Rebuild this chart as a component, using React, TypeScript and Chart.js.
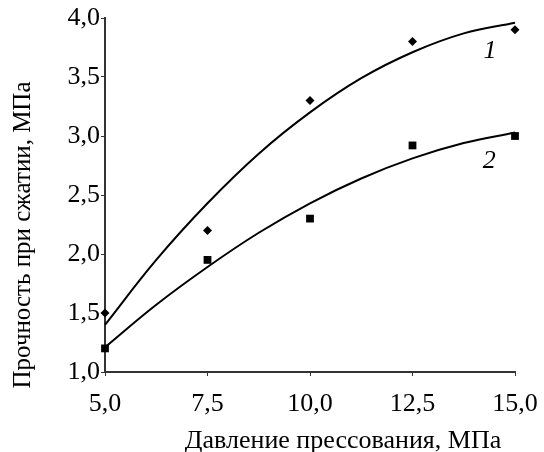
import React, { useEffect, useRef } from "react";
import { Chart, registerables } from "chart.js";

Chart.register(...registerables);

// Data
const pressure = [5, 7.5, 10, 12.5, 15];
const strength1 = [1.5, 2.2, 3.3, 3.8, 3.9];
const strength2 = [1.2, 1.95, 2.3, 2.92, 3.0];
// trend curves
const trendX = [5, 6.25, 7.5, 8.75, 10, 11.25, 12.5, 13.75, 15];
const trend1 = [1.4, 1.95, 2.43, 2.85, 3.2, 3.49, 3.71, 3.87, 3.96];
const trend2 = [1.21, 1.57, 1.89, 2.18, 2.43, 2.64, 2.81, 2.94, 3.03];

const xTitle = "Давление прессования, МПа";
const yTitle = "Прочность при сжатии, МПа";
const curveLabels = ["1", "2"];
const labelPos = [
  [14.39, 3.72],
  [14.37, 2.79],
];

const FONT = "'Liberation Serif', 'Times New Roman', serif";
const AXIS = "#333";

const fmt = (v: number) => v.toFixed(1).replace(".", ",");

const textPlugin = {
  id: "customText",
  afterDraw(chart: any) {
    const ctx = chart.ctx;
    const xs = chart.scales.x;
    const ys = chart.scales.y;
    ctx.save();
    ctx.fillStyle = "#000";
    ctx.textAlign = "center";
    ctx.textBaseline = "middle";
    ctx.font = `italic 26px ${FONT}`;
    curveLabels.forEach((t, i) => {
      ctx.fillText(t, xs.getPixelForValue(labelPos[i][0]), ys.getPixelForValue(labelPos[i][1]));
    });
    ctx.font = `26px ${FONT}`;
    ctx.fillText(xTitle, 343, 441);
    ctx.translate(23, 235);
    ctx.rotate(-Math.PI / 2);
    ctx.font = `25px ${FONT}`;
    ctx.fillText(yTitle, 0, 0);
    ctx.restore();
  },
};

export default function App() {
  const ref = useRef<HTMLCanvasElement>(null);
  useEffect(() => {
    if (!ref.current) return;
    const pts = (xs: number[], ys: number[]) => xs.map((x, i) => ({ x, y: ys[i] }));
    const chart = new Chart(ref.current, {
      type: "scatter",
      data: {
        datasets: [
          {
            label: "1",
            data: pts(trendX, trend1),
            showLine: true,
            borderColor: "#000",
            borderWidth: 2,
            pointRadius: 0,
            tension: 0.4,
            clip: false,
          },
          {
            label: "2",
            data: pts(trendX, trend2),
            showLine: true,
            borderColor: "#000",
            borderWidth: 2,
            pointRadius: 0,
            tension: 0.4,
            clip: false,
          },
          {
            label: "1 points",
            data: pts(pressure, strength1),
            pointStyle: "rectRot",
            pointRadius: 4.5,
            backgroundColor: "#000",
            borderColor: "#000",
            borderWidth: 0,
            clip: false,
          },
          {
            label: "2 points",
            data: pts(pressure, strength2),
            pointStyle: "rect",
            pointRadius: 5.5,
            backgroundColor: "#000",
            borderColor: "#000",
            borderWidth: 0,
            clip: false,
          },
        ],
      },
      options: {
        animation: false,
        responsive: true,
        maintainAspectRatio: false,
        layout: { padding: { left: 0, right: 29, top: 18, bottom: 0 } },
        plugins: {
          legend: { display: false },
          tooltip: { enabled: false },
        },
        scales: {
          x: {
            type: "linear",
            min: 5,
            max: 15,
            afterFit: (s: any) => {
              s.height = 80;
              s.paddingLeft = 0;
              s.paddingRight = 0;
            },
            ticks: {
              stepSize: 2.5,
              callback: (v: any) => fmt(Number(v)),
              font: { family: FONT, size: 26 },
              color: "#000",
              padding: 13,
              maxRotation: 0,
            },
            grid: {
              display: true,
              drawOnChartArea: false,
              drawTicks: true,
              tickLength: 4,
              color: AXIS,
            },
            border: { display: true, color: AXIS, width: 2 },
          },
          y: {
            type: "linear",
            min: 1,
            max: 4,
            afterFit: (s: any) => {
              s.width = 105;
              s.paddingTop = 0;
              s.paddingBottom = 0;
            },
            ticks: {
              stepSize: 0.5,
              callback: (v: any) => fmt(Number(v)),
              font: { family: FONT, size: 26 },
              color: "#000",
              padding: 1,
            },
            grid: {
              display: true,
              drawOnChartArea: false,
              drawTicks: true,
              tickLength: 4,
              color: AXIS,
            },
            border: { display: true, color: AXIS, width: 2 },
          },
        },
      },
      plugins: [textPlugin],
    });
    return () => chart.destroy();
  }, []);
  return (
    <div style={{ position: "absolute", left: 0, top: 0, width: 544, height: 452, background: "#fff" }}>
      <canvas ref={ref} />
    </div>
  );
}
